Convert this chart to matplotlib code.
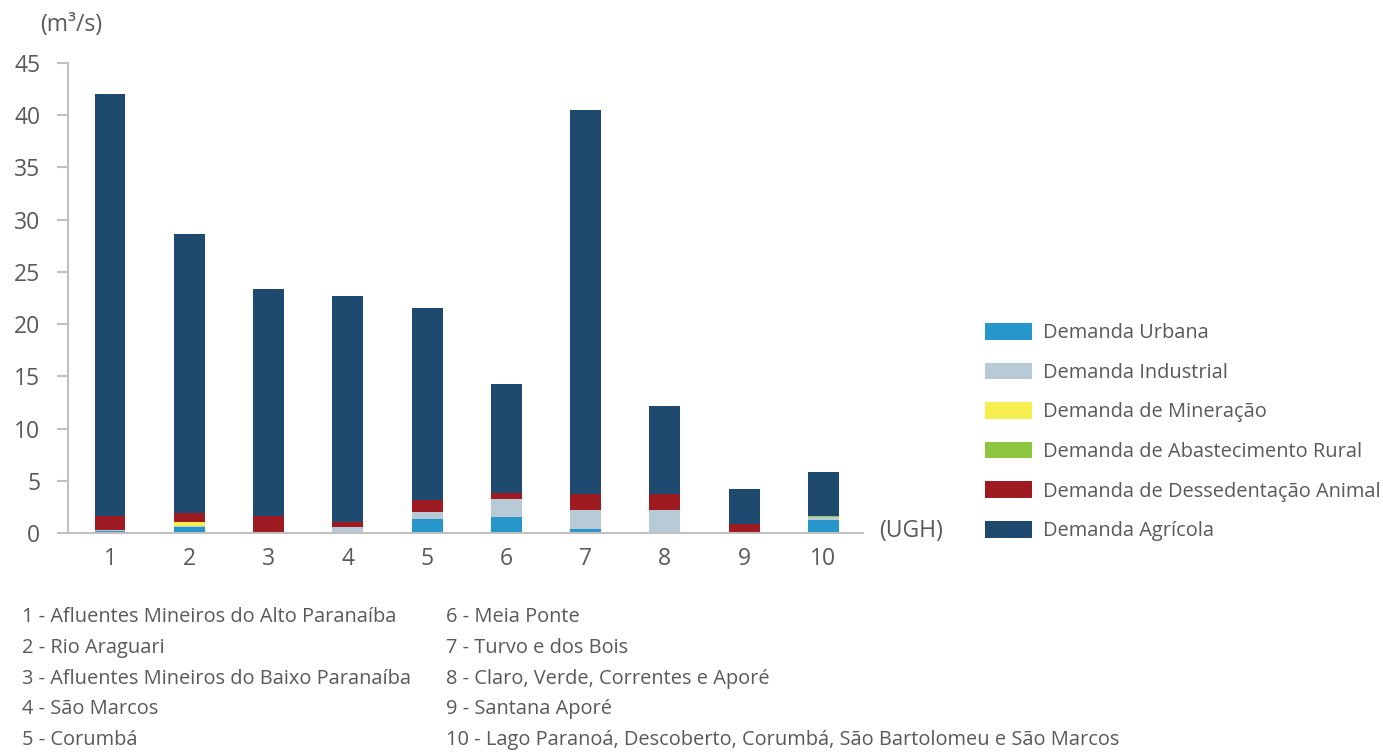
import numpy as np
import matplotlib.pyplot as plt
from matplotlib.patches import Patch

plt.rcParams['font.family'] = ['Open Sans', 'DejaVu Sans']

# Data (m3/s) per UGH
ugh = [1, 2, 3, 4, 5, 6, 7, 8, 9, 10]
urbana = [0.2, 0.6, 0.05, 0.0, 1.3, 1.5, 0.4, 0.1, 0.05, 1.25]
industrial = [0.1, 0.05, 0.05, 0.57, 0.67, 1.72, 1.82, 2.1, 0.05, 0.3]
mineracao = [0.0, 0.45, 0.0, 0.0, 0.0, 0.0, 0.0, 0.0, 0.0, 0.0]
rural = [0.0, 0.0, 0.0, 0.0, 0.0, 0.0, 0.0, 0.0, 0.0, 0.1]
animal = [1.3, 0.77, 1.5, 0.48, 1.15, 0.65, 1.47, 1.53, 0.75, 0.0]
agricola = [40.4, 26.75, 21.8, 21.65, 18.45, 10.35, 36.8, 8.45, 3.35, 4.2]

series = [
    ('Demanda Urbana', urbana, '#2797cb'),
    ('Demanda Industrial', industrial, '#b8cad6'),
    ('Demanda de Mineração', mineracao, '#f4ee4e'),
    ('Demanda de Abastecimento Rural', rural, '#8dc63f'),
    ('Demanda de Dessedentação Animal', animal, '#9e1b22'),
    ('Demanda Agrícola', agricola, '#1f4a6f'),
]

ugh_names_left = [
    '1 - Afluentes Mineiros do Alto Paranaíba',
    '2 - Rio Araguari',
    '3 - Afluentes Mineiros do Baixo Paranaíba',
    '4 - São Marcos',
    '5 - Corumbá',
]
ugh_names_right = [
    '6 - Meia Ponte',
    '7 - Turvo e dos Bois',
    '8 - Claro, Verde, Correntes e Aporé',
    '9 - Santana Aporé',
    '10 - Lago Paranoá, Descoberto, Corumbá, São Bartolomeu e São Marcos',
]

W, H = 1383, 752
fig = plt.figure(figsize=(W / 100, H / 100), dpi=100)
ax = fig.add_axes([68 / W, 1 - 533 / H, (863 - 68) / W, (533 - 63) / H])

text_color = '#595959'
axis_color = '#c0c0c0'

bottom = np.zeros(len(ugh))
for label, vals, color in series:
    ax.bar(ugh, vals, width=0.39, bottom=bottom, color=color, label=label)
    bottom += np.array(vals)

ax.set_xlim(0.47, 10.5)
ax.set_ylim(0, 45)
ax.set_xticks(ugh)
ax.set_yticks(range(0, 46, 5))
for s in ['top', 'right']:
    ax.spines[s].set_visible(False)
for s in ['left', 'bottom']:
    ax.spines[s].set_color(axis_color)
    ax.spines[s].set_linewidth(1.5)
ax.tick_params(axis='y', colors=axis_color, labelcolor=text_color, labelsize=16.5,
               length=8, width=1.5, pad=12)
ax.tick_params(axis='x', length=0, labelcolor=text_color, labelsize=16.5, pad=10)

fig.text(40 / W, 1 - 25 / H, '(m³/s)', color=text_color, fontsize=16.5, va='center')
fig.text(879 / W, 1 - 531 / H, '(UGH)', color=text_color, fontsize=16.5, va='center')

handles = [Patch(facecolor=c, label=l) for l, v, c in series]
fig.legend(handles=handles, loc='upper left', bbox_to_anchor=(985 / W, 1 - 323 / H),
           frameon=False, fontsize=14.4, labelcolor=text_color,
           handlelength=2.35, handleheight=0.9, handletextpad=0.55, labelspacing=0.97,
           borderpad=0, borderaxespad=0)

for i, t in enumerate(ugh_names_left):
    fig.text(22 / W, 1 - (617 + i * 30.8) / H, t, color=text_color, fontsize=14.4, va='center')
for i, t in enumerate(ugh_names_right):
    fig.text(446 / W, 1 - (617 + i * 30.8) / H, t, color=text_color, fontsize=14.4, va='center')

fig.savefig('out.png', dpi=100)
